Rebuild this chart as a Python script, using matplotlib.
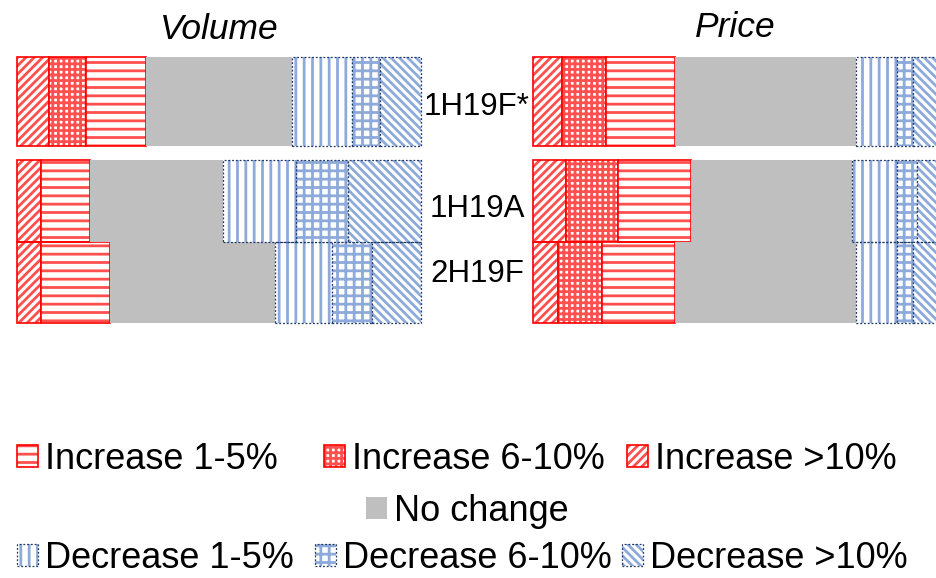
import matplotlib
matplotlib.use('Agg')
import matplotlib.pyplot as plt
from matplotlib.legend_handler import HandlerTuple
from matplotlib.transforms import blended_transform_factory

plt.rcParams['font.family'] = ['Liberation Sans', 'DejaVu Sans']
plt.rcParams['hatch.linewidth'] = 2.0

periods = ['1H19F*', '1H19A', '2H19F']
series = ['Increase >10%', 'Increase 6-10%', 'Increase 1-5%', 'No change',
          'Decrease 1-5%', 'Decrease 6-10%', 'Decrease >10%']
panel_titles = ['Volume', 'Price']

# Share of respondents (%) for each period
volume_inc_gt10 = [8, 6, 6]
volume_inc_6_10 = [9, 0, 0]
volume_inc_1_5 = [15, 12, 17]
volume_no_change = [36, 33, 41]
volume_dec_1_5 = [15, 18, 14]
volume_dec_6_10 = [7, 13, 10]
volume_dec_gt10 = [10, 18, 12]

price_inc_gt10 = [7, 8, 6]
price_inc_6_10 = [11, 13, 11]
price_inc_1_5 = [17, 18, 18]
price_no_change = [45, 40, 45]
price_dec_1_5 = [10, 11, 10]
price_dec_6_10 = [4, 5, 4]
price_dec_gt10 = [6, 5, 6]

volume_series = [volume_inc_gt10, volume_inc_6_10, volume_inc_1_5, volume_no_change,
                 volume_dec_1_5, volume_dec_6_10, volume_dec_gt10]
price_series = [price_inc_gt10, price_inc_6_10, price_inc_1_5, price_no_change,
                price_dec_1_5, price_dec_6_10, price_dec_gt10]

# Row layout (data units on the y axis): first row set apart, last two touching
row_y = [2.22, 1.0, 0.0]
row_h = [1.09, 1.0, 1.0]
label_y = [2.05, 0.80, 0.0]

RED_HATCH = '#ff5050'
RED_EDGE = '#ff0000'
BLUE_HATCH = '#8eaadb'
BLUE_EDGE = '#1f3864'
GREY = '#bfbfbf'

dotted = (0, (1.5, 1.5))
styles = [
    dict(hatch='////', hcol=RED_HATCH, edge=RED_EDGE, ls='-', lw=1.2),
    dict(hatch='+++', hcol=RED_HATCH, edge=RED_EDGE, ls='-', lw=1.2),
    dict(hatch='--', hcol=RED_HATCH, edge=RED_EDGE, ls='-', lw=1.2),
    dict(hatch=None, hcol=None, edge=None, ls='-', lw=0),
    dict(hatch='||', hcol=BLUE_HATCH, edge=BLUE_EDGE, ls=dotted, lw=0.9),
    dict(hatch='++', hcol=BLUE_HATCH, edge=BLUE_EDGE, ls=dotted, lw=0.9),
    dict(hatch='\\\\\\\\', hcol=BLUE_HATCH, edge=BLUE_EDGE, ls=dotted, lw=0.9),
]

fig = plt.figure(figsize=(9.36, 5.78), dpi=100)
W, H = 936.0, 578.0
ax_v = fig.add_axes([17 / W, 1 - 323 / H, 403.7 / W, 266 / H])
ax_p = fig.add_axes([533.3 / W, 1 - 323 / H, 403.7 / W, 266 / H])


def draw_panel(ax, values, title, title_pad):
    handles = []
    left = [0.0] * len(periods)
    for vals, st in zip(values, styles):
        if st['hatch'] is None:
            b = ax.barh(row_y, vals, left=left, height=row_h, color=GREY,
                        linewidth=0)
            handles.append(b.patches[0])
        else:
            b1 = ax.barh(row_y, vals, left=left, height=row_h, color='white',
                         edgecolor=st['hcol'], linewidth=0, hatch=st['hatch'])
            b2 = ax.barh(row_y, vals, left=left, height=row_h, fill=False,
                         edgecolor=st['edge'], linewidth=st['lw'],
                         linestyle=st['ls'])
            for p in b2.patches:
                p.set_clip_on(False)
            handles.append((b1.patches[0], b2.patches[0]))
        left = [l + v for l, v in zip(left, vals)]
    ax.set_xlim(0, 100)
    ax.set_ylim(-0.5, 2.765)
    ax.axis('off')
    ax.set_title(title, fontsize=25.5, style='italic', pad=title_pad)
    return handles


handles = draw_panel(ax_v, volume_series, panel_titles[0], 13)
draw_panel(ax_p, price_series, panel_titles[1], 14.5)

# Period labels sit between the two panels
trans = blended_transform_factory(ax_p.transAxes, ax_p.transData)
for lab, y in zip(periods, label_y):
    ax_p.text(-0.1395, y, lab, transform=trans, ha='center', va='baseline',
              fontsize=22.5, clip_on=False)

# Legend laid out on a grid: three increase entries, no change, three decrease entries
legend_kw = dict(loc='center left', frameon=False, fontsize=26,
                 handlelength=0.58, handleheight=0.58, handletextpad=0.2,
                 borderpad=0, borderaxespad=0,
                 handler_map={tuple: HandlerTuple(ndivide=1)})

legend_slots = [  # (series index, left x px, centre y px)
    (2, 17, 459.5), (1, 324, 459.5), (0, 627, 459.5),
    (3, 366, 511.5),
    (4, 17, 558.5), (5, 315, 558.5), (6, 622, 558.5),
]
for i, x, y in legend_slots:
    fig.legend([handles[i]], [series[i]], bbox_to_anchor=(x / W, 1 - y / H),
               **legend_kw)

fig.savefig('out.png', dpi=100)
